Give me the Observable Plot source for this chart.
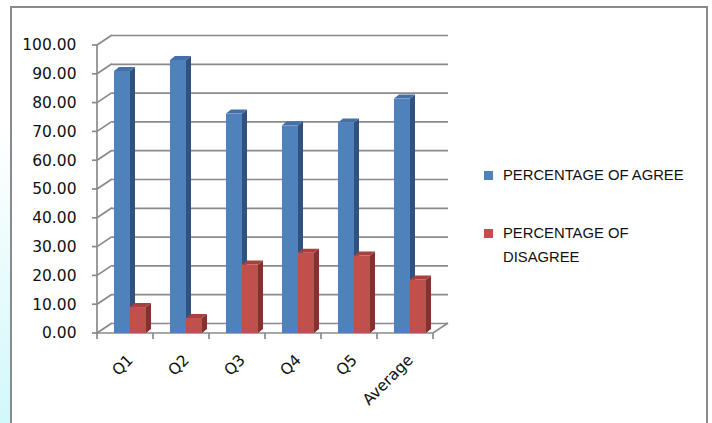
<!DOCTYPE html>
<html>
<head>
<meta charset="utf-8">
<script src="https://cdn.jsdelivr.net/npm/d3@7"></script>
<script src="https://cdn.jsdelivr.net/npm/@observablehq/plot@0.6"></script>
<style>
  html, body { margin: 0; padding: 0; background: #fff; }
  body { width: 712px; height: 423px; position: relative; overflow: hidden; }
  #edge { position: absolute; left: 0; top: 0; width: 10px; height: 423px;
          background: linear-gradient(to bottom, #ffffff 30%, #d2f8fa 100%); }
  #panel { position: absolute; left: 10px; top: 6px; width: 698px; height: 440px;
           border: 2px solid #8a8a8a; box-sizing: border-box; background: #fff; }
  #chart { position: absolute; left: 0; top: 0; }
  .legend { position: absolute; left: 484px; font-family: "Liberation Sans", Arial, sans-serif;
            font-size: 14.8px; line-height: 23.5px; color: #111; }
  .legend .sw { position: absolute; left: 0; width: 9px; height: 9px; }
  .legend .lb { position: absolute; left: 19px; white-space: nowrap; }
</style>
</head>
<body>
<div id="edge"></div>
<div id="panel"></div>
<div id="chart"></div>
<div class="legend" id="legend"></div>
<script>
// Survey responses per question
const categories = ["Q1", "Q2", "Q3", "Q4", "Q5", "Average"];
const agree = [91.0, 94.8, 76.2, 72.1, 73.1, 81.4];
const disagree = [9.0, 5.2, 23.8, 27.9, 26.9, 18.6];
const yTicks = [0, 10, 20, 30, 40, 50, 60, 70, 80, 90, 100];
const seriesNames = ["PERCENTAGE OF AGREE", "PERCENTAGE OF DISAGREE"];

// Face colours and placement of each column inside its category band
const series = [
  {name: seriesNames[0], values: agree, front: "#4f81bd", side: "#31527e", top: "#4470a8", insetLeft: 17, insetRight: 23},
  {name: seriesNames[1], values: disagree, front: "#c0504d", side: "#833230", top: "#a8413e", insetLeft: 33, insetRight: 7}
];

const gridColor = "#8a8a8a";
const wallDx = 15, wallDy = 10;   // receding depth of the walls
const barDx = 5, barDy = 4;       // receding depth of each column

const rows = series.flatMap(s => categories.map((c, i) => ({category: c, series: s.name, value: s.values[i]})));

// Left wall diagonals, front axis line, floor edge and category dividers
function walls(index, scales, values, dims) {
  const {x, y} = scales;
  const x0 = dims.marginLeft, x1 = dims.width - dims.marginRight;
  const y0 = y(0);
  const g = d3.create("svg:g").attr("fill", "none").attr("stroke", gridColor).attr("stroke-width", 1.7);
  for (const t of yTicks) {
    g.append("line").attr("x1", x0 - 5).attr("y1", y(t)).attr("x2", x0).attr("y2", y(t));
    g.append("line").attr("x1", x0).attr("y1", y(t)).attr("x2", x0 + wallDx).attr("y2", y(t) - wallDy);
  }
  g.append("line").attr("x1", x0).attr("x2", x0).attr("y1", y(0)).attr("y2", y(100));
  g.append("polyline").attr("points", `${x0},${y0} ${x1},${y0} ${x1 + wallDx},${y0 - wallDy}`);
  const bounds = categories.map(c => x(c)).concat([x1]);
  for (const b of bounds) {
    g.append("line").attr("x1", b).attr("x2", b).attr("y1", y0).attr("y2", y0 + 6);
  }
  return g.node();
}

// Side and top faces of one series' columns
function extrusion(s) {
  return (index, scales) => {
    const {x, y} = scales;
    const bw = x.bandwidth();
    const g = d3.create("svg:g");
    s.values.forEach((v, i) => {
      const xl = x(categories[i]) + s.insetLeft;
      const xr = x(categories[i]) + bw - s.insetRight;
      const yt = y(v), yb = y(0);
      g.append("path").attr("fill", s.side)
        .attr("d", `M${xr},${yb}V${yt}l${barDx},${-barDy}V${yb - barDy}Z`);
      g.append("path").attr("fill", s.top)
        .attr("d", `M${xl},${yt}H${xr}l${barDx},${-barDy}H${xl + barDx}Z`);
    });
    return g.node();
  };
}

const columnMarks = series.flatMap(s => [
  extrusion(s),
  Plot.barY(rows.filter(r => r.series === s.name), {
    x: "category", y: "value", fill: s.front,
    insetLeft: s.insetLeft, insetRight: s.insetRight
  })
]);

const chart = Plot.plot({
  width: 712,
  height: 423,
  marginLeft: 97,
  marginRight: 279,
  marginTop: 45,
  marginBottom: 90,
  style: {fontFamily: "DejaVu Sans", fontSize: "15px", color: "#111", background: "transparent", overflow: "visible"},
  x: {domain: categories, padding: 0},
  y: {domain: [0, 100]},
  marks: [
    Plot.ruleY(yTicks, {dx: wallDx, dy: -wallDy, stroke: gridColor, strokeWidth: 1.7}),
    walls,
    ...columnMarks,
    Plot.axisY({ticks: yTicks, tickSize: 0, tickPadding: 21, tickFormat: d3.format(".2f"), label: null, fontSize: 15.5}),
    Plot.axisX({tickSize: 0, tickRotate: -45, tickPadding: 14, dx: 5, dy: 10, label: null, fontSize: 15.5})
  ]
});
document.getElementById("chart").appendChild(chart);

// Legend on the right
const legend = document.getElementById("legend");
const legendItems = [
  {top: 164, lines: ["PERCENTAGE OF AGREE"], color: series[0].front},
  {top: 222, lines: ["PERCENTAGE OF", "DISAGREE"], color: series[1].front}
];
for (const it of legendItems) {
  const sw = document.createElement("div");
  sw.className = "sw";
  sw.style.top = (it.top + 7) + "px";
  sw.style.background = it.color;
  legend.appendChild(sw);
  const lb = document.createElement("div");
  lb.className = "lb";
  lb.style.top = it.top + "px";
  lb.innerHTML = it.lines.join("<br>");
  legend.appendChild(lb);
}
legend.style.top = "0px";
</script>
</body>
</html>
